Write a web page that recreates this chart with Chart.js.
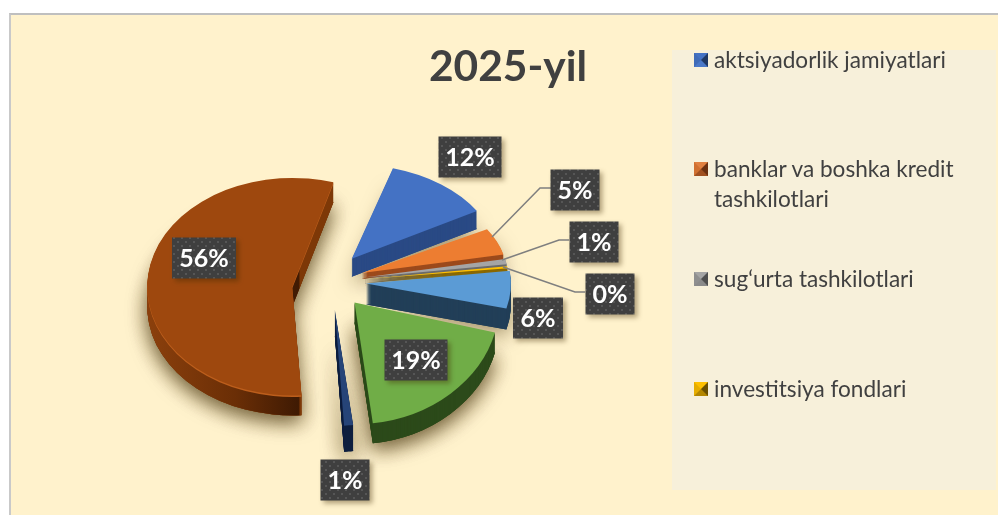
<!DOCTYPE html>
<html lang="uz">
<head>
    <meta charset="UTF-8" />
    <title>2025-yil</title>
    <script src="https://cdn.jsdelivr.net/npm/chart.js"></script>
    <style>
        html, body { margin: 0; padding: 0; background: #fff; overflow: hidden; }
        #panel {
            position: absolute; left: 9px; top: 13px; width: 989px; height: 502px;
            box-sizing: border-box;
            background: #FFF2CC;
            border-top: 2px solid #bfbfbf; border-left: 2px solid #c9c9c9;
        }
        #legendBox { position: absolute; left: 672px; top: 50px; width: 324px; height: 440px; background: #F7F0DA; }
        #pie { position: absolute; left: 0; top: 0; }
        h1 {
            position: absolute; left: 358px; top: 35px; width: 300px; margin: 0;
            text-align: center; font: bold 42.5px/60px Lato, sans-serif; color: #404040;
        }
        .item {
            position: absolute; left: 714px; width: 262px;
            font: 22.6px/30px Lato, sans-serif; color: #404040;
        }
        .swatch {
            position: absolute; left: -20px; top: 8px; width: 0; height: 0;
            border-style: solid; border-width: 7px;
        }
    </style>
</head>
<body>
    <div id="panel"></div>
    <div id="legendBox"></div>
    <canvas id="pie" width="998" height="515"></canvas>
    <h1>2025-yil</h1>
    <div id="legend"></div>

    <script>
        const categories = ['aktsiyadorlik jamiyatlari', 'banklar va boshka kredit tashkilotlari', 'sug‘urta tashkilotlari', 'investitsiya fondlari'];
        const shares = [12, 5, 1, 0.4, 6, 19, 1, 55.6];

        const topColors = ['#4472C4', '#ED7D31', '#A5A5A5', '#FFC000', '#5B9BD5', '#70AD47', '#264478', '#9E480E'];
        const sideColors = ['#2A4A85', '#9C4A1C', '#6B6B6B', '#8A6800', '#223F58', '#2C4A1A', '#0E1F3F', '#7D3807'];
        // the original is in perspective, so every slice gets its own tilt
        const slicePull = [32, 32, 32, 32, 34, 34, 30, 40];
        const sliceSquash = [0.65, 0.6, 0.6, 0.6, 0.7, 0.84, 0.8, 0.75];
        const sliceLift = [-10, -5, -4, -3, -3, -4, 1, 5];
        const sliceDepth = [18, 6, 6, 6, 21, 20, 26, 20];
        const drawOrder = [7, 6, 5, 0, 1, 2, 3, 4];
        const heavyShadow = [7, 6, 5];

        // label boxes: centre x, centre y, width
        const labelBoxes = [[470, 157, 63], [575, 190, 49], [594, 242, 49], [610, 294, 49], [538, 318, 50], [416, 360, 63], [345, 480, 49], [204, 258, 64]];
        const leaderLines = {
            1: [[551, 188], [540, 188], [492, 237]],
            2: [[569, 240], [559, 240], [502, 260]],
            3: [[585, 292], [575, 292], [503, 267]]
        };

        function dotPattern(ctx) {
            const c = document.createElement('canvas');
            c.width = c.height = 8;
            const p = c.getContext('2d');
            p.fillStyle = '#3F3F3F';
            p.fillRect(0, 0, 8, 8);
            p.fillStyle = '#565656';
            p.fillRect(1, 1, 2, 2);
            p.fillRect(5, 5, 2, 2);
            return ctx.createPattern(c, 'repeat');
        }

        function drawSlice(ctx, arc, i, color, drop) {
            const mid = (arc.startAngle + arc.endAngle) / 2;
            const pull = slicePull[i];
            const saved = arc.options;
            arc.options = Object.assign({}, saved, { backgroundColor: color });
            ctx.save();
            ctx.translate(0, arc.y + drop + sliceLift[i]);
            ctx.scale(1, sliceSquash[i]);
            ctx.translate(Math.cos(mid) * pull, Math.sin(mid) * pull - arc.y);
            arc.draw(ctx);
            ctx.restore();
            arc.options = saved;
        }

        const pie3d = {
            id: 'pie3d',
            beforeDatasetDraw(chart) {
                const ctx = chart.ctx;
                const arcs = chart.getDatasetMeta(0).data;

                // gradient lives in the slice's own coordinates, which are moved left by its pull
                const brownSide = ctx.createLinearGradient(190, 0, 380, 0);
                brownSide.addColorStop(0, '#8A3F0C');
                brownSide.addColorStop(0.45, '#6A2E06');
                brownSide.addColorStop(0.78, '#3F1A03');
                brownSide.addColorStop(0.79, '#7D3807');
                brownSide.addColorStop(1, '#7D3807');

                // soft shadow under the whole pie, stronger at the front
                ctx.save();
                ctx.shadowColor = 'rgba(80,60,20,0.55)';
                ctx.shadowBlur = 20;
                ctx.shadowOffsetY = 6;
                drawOrder.forEach(i => drawSlice(ctx, arcs[i], i, sideColors[i], sliceDepth[i]));
                heavyShadow.forEach(i => drawSlice(ctx, arcs[i], i, sideColors[i], sliceDepth[i]));
                ctx.restore();

                drawOrder.forEach(i => {
                    const side = i === 7 ? brownSide : sideColors[i];
                    for (let d = sliceDepth[i]; d > 0; d--) {
                        drawSlice(ctx, arcs[i], i, side, d);
                    }
                    if (i === 7) drawSlice(ctx, arcs[i], i, '#BC5E1C', 1.5);
                    drawSlice(ctx, arcs[i], i, topColors[i], 0);
                });
                return false;
            },
            afterDatasetsDraw(chart) {
                const ctx = chart.ctx;
                const total = shares.reduce((a, b) => a + b, 0);
                const fill = dotPattern(ctx);

                ctx.save();
                ctx.strokeStyle = '#7F7F7F';
                ctx.lineWidth = 1.5;
                Object.values(leaderLines).forEach(pts => {
                    ctx.beginPath();
                    pts.forEach((p, n) => n ? ctx.lineTo(p[0], p[1]) : ctx.moveTo(p[0], p[1]));
                    ctx.stroke();
                });
                ctx.restore();

                shares.forEach((v, i) => {
                    const [x, y, w] = labelBoxes[i];
                    ctx.save();
                    ctx.shadowColor = 'rgba(60,40,0,0.4)';
                    ctx.shadowBlur = 5;
                    ctx.shadowOffsetX = 3;
                    ctx.shadowOffsetY = 3;
                    ctx.fillStyle = fill;
                    ctx.fillRect(x - w / 2, y - 20.5, w, 41);
                    ctx.restore();
                    ctx.fillStyle = '#fff';
                    ctx.font = 'bold 25px Lato, sans-serif';
                    ctx.textAlign = 'center';
                    ctx.textBaseline = 'middle';
                    ctx.fillText(Math.round(v / total * 100) + '%', x, y + 1);
                });
            }
        };

        new Chart(document.getElementById('pie'), {
            type: 'pie',
            data: {
                labels: categories,
                datasets: [{ data: shares, backgroundColor: topColors, borderWidth: 0 }]
            },
            options: {
                responsive: false,
                animation: false,
                rotation: 16.5,
                radius: 145,
                layout: { padding: { left: 0, right: 334, top: 55, bottom: 0 } },
                plugins: { legend: { display: false }, tooltip: { enabled: false } }
            },
            plugins: [pie3d]
        });

        // legend, bevelled squares like the original (top right bottom left)
        const legendTops = [45, 154, 264, 374];
        const bevels = [
            ['#4472C4', '#1F3864', '#4A78C8', '#3F6BB8'],
            ['#E08040', '#6B3010', '#A05020', '#D07030'],
            ['#A5A5A5', '#4F4F4F', '#8A8A8A', '#8F8F8F'],
            ['#FFC000', '#6B5000', '#B38600', '#E6AD00']
        ];
        const legend = document.getElementById('legend');
        categories.forEach((name, i) => {
            const item = document.createElement('div');
            item.className = 'item';
            item.style.top = legendTops[i] + 'px';
            item.textContent = name;
            const sw = document.createElement('span');
            sw.className = 'swatch';
            sw.style.borderColor = bevels[i].join(' ');
            item.appendChild(sw);
            legend.appendChild(item);
        });
    </script>
</body>
</html>
